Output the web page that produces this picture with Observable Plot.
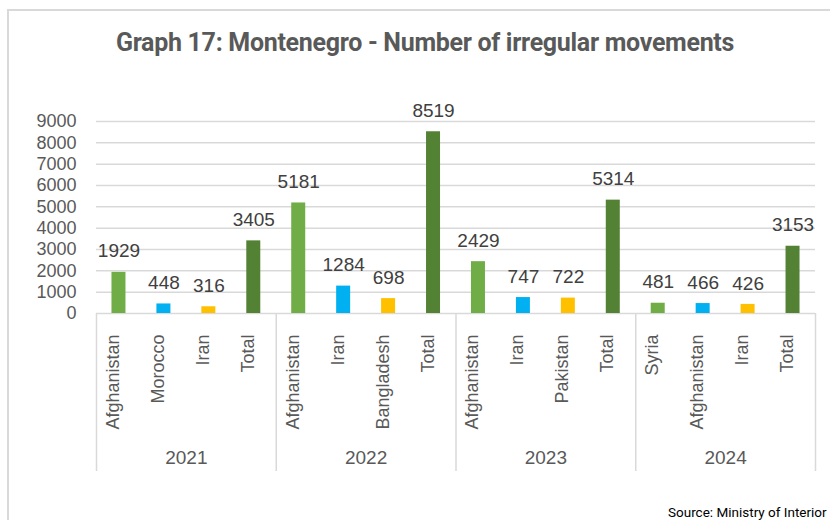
<!DOCTYPE html>
<html><head><meta charset="utf-8">
<script src="https://cdn.jsdelivr.net/npm/d3@7"></script>
<script src="https://cdn.jsdelivr.net/npm/@observablehq/plot@0.6"></script>
<style>
body{margin:0;background:#fff;width:830px;height:520px;overflow:hidden;position:relative;font-family:"Liberation Sans",Arial,sans-serif;}
#border{position:absolute;left:7px;top:9px;width:900px;height:600px;border:2px solid #d9d9d9;box-sizing:border-box;}
#title{position:relative;height:70px;box-sizing:border-box;padding-top:29px;padding-left:20px;text-align:center;font-family:Roboto,sans-serif;font-weight:bold;font-size:25px;line-height:28px;color:#595959;letter-spacing:-0.3px;white-space:nowrap;}
#chart{position:relative;height:420px;}
#source{position:relative;margin-top:14px;padding-left:668px;font-family:Roboto,sans-serif;font-size:13.5px;line-height:16px;white-space:nowrap;color:#000;}
</style></head>
<body>
<div id="border"></div>
<div id="title">Graph 17: Montenegro - Number of irregular movements</div>
<div id="chart"></div>
<div id="source">Source: Ministry of Interior</div>
<script>
const years = ["2021", "2022", "2023", "2024"];
const countries = [
  ["Afghanistan", "Morocco", "Iran", "Total"],
  ["Afghanistan", "Iran", "Bangladesh", "Total"],
  ["Afghanistan", "Iran", "Pakistan", "Total"],
  ["Syria", "Afghanistan", "Iran", "Total"]
];
const values = [
  [1929, 448, 316, 3405],
  [5181, 1284, 698, 8519],
  [2429, 747, 722, 5314],
  [481, 466, 426, 3153]
];
const yTicks = [0, 1000, 2000, 3000, 4000, 5000, 6000, 7000, 8000, 9000];
const barColors = ["#70AD47", "#00B0F0", "#FFC000", "#548235"];

const W = 830, H = 420, ML = 96, MR = 15, MT = 51, MB = 177;
const keys = [];
const data = [];
years.forEach((yr, g) => countries[g].forEach((c, i) => {
  const k = yr + "|" + c;
  keys.push(k);
  data.push({key: k, year: yr, country: c, value: values[g][i], pos: String(i)});
}));
const bw = (W - ML - MR) / keys.length;
const inset = (bw - 14) / 2;
const firstKeys = keys.filter((k, i) => i % 4 === 0);
const lastKey = keys[keys.length - 1];
const yearData = years.map((yr, g) => ({year: yr, key: keys[g * 4 + 1]}));
const grid = "#d9d9d9";

const plot = Plot.plot({
  width: W, height: H,
  marginLeft: ML, marginRight: MR, marginTop: MT, marginBottom: MB,
  style: {fontFamily: "'Liberation Sans', Arial, sans-serif", background: "transparent", overflow: "visible"},
  x: {type: "band", domain: keys, padding: 0, round: false},
  y: {domain: [0, 9000]},
  color: {type: "ordinal", domain: ["0", "1", "2", "3"], range: barColors},
  marks: [
    Plot.ruleY(yTicks, {stroke: grid, strokeWidth: 1.5}),
    Plot.axisY({ticks: yTicks, tickSize: 0, tickPadding: 20, fontSize: 18, fill: "#595959", label: null, tickFormat: d => String(d)}),
    Plot.barY(data, {x: "key", y: "value", fill: "pos", insetLeft: inset, insetRight: inset}),
    Plot.text(data, {x: "key", y: "value", text: d => String(d.value), dy: -21, fontSize: 19, fill: "#404040"}),
    Plot.axisX({ticks: firstKeys, tickFormat: () => "", tickSize: 158, dx: -bw / 2, stroke: grid, strokeWidth: 1.5, label: null}),
    Plot.axisX({ticks: [lastKey], tickFormat: () => "", tickSize: 158, dx: bw / 2, stroke: grid, strokeWidth: 1.5, label: null}),
    Plot.text(data, {x: "key", frameAnchor: "bottom", text: "country", rotate: -90, textAnchor: "end", dy: 21, fontSize: 18, fill: "#595959"}),
    Plot.text(yearData, {x: "key", frameAnchor: "bottom", text: "year", dx: bw / 2, dy: 150, fontSize: 19, fill: "#595959"})
  ]
});
document.getElementById("chart").appendChild(plot);
</script>
</body></html>
